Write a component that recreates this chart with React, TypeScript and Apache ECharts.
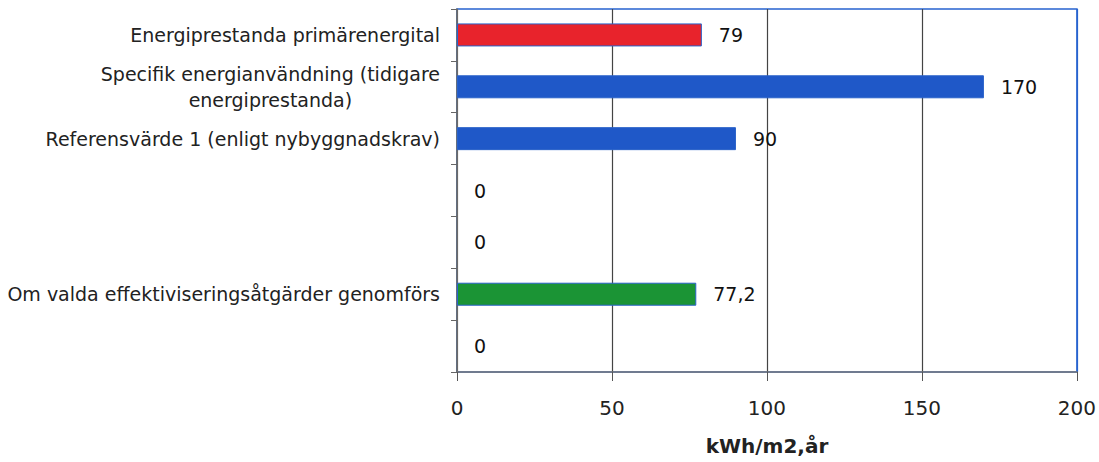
import React, { useEffect, useRef } from "react";
import * as echarts from "echarts";

const categories = [
  "Energiprestanda primärenergital",
  "Specifik energianvändning (tidigare\nenergiprestanda)",
  "Referensvärde 1 (enligt nybyggnadskrav)",
  "",
  "",
  "Om valda effektiviseringsåtgärder genomförs",
  "",
];
const values = [79, 170, 90, 0, 0, 77.2, 0];
const barColors = ["#e8232c", "#1f58c8", "#1f58c8", "#1f58c8", "#1f58c8", "#1b9435", "#1f58c8"];
const xTicks = { min: 0, max: 200, interval: 50 };
const axisName = "kWh/m2,år";

const FONT = "DejaVu Sans";

export default function App() {
  const ref = useRef<HTMLDivElement>(null);
  useEffect(() => {
    const chart = echarts.init(ref.current!, null, { renderer: "svg" });
    chart.setOption({
      animation: false,
      backgroundColor: "#ffffff",
      textStyle: { fontFamily: FONT },
      grid: {
        left: 457,
        right: 21,
        top: 9,
        bottom: 90,
        show: true,
        borderColor: "#2763cf",
        borderWidth: 1.5,
        containLabel: false,
      },
      xAxis: {
        type: "value",
        min: xTicks.min,
        max: xTicks.max,
        interval: xTicks.interval,
        name: axisName,
        nameLocation: "middle",
        nameGap: 64,
        nameTextStyle: { fontFamily: FONT, fontSize: 20, fontWeight: "bold", color: "#222" },
        axisLine: { show: true, lineStyle: { color: "#777", width: 1.5 } },
        axisTick: { show: true, length: 9, lineStyle: { color: "#555" } },
        axisLabel: { fontFamily: FONT, fontSize: 20, color: "#222", margin: 26 },
        splitLine: {
          show: true,
          lineStyle: { color: ["#777", "#444", "#444", "#444", "#2763cf"], width: 1.2 },
        },
      },
      yAxis: {
        type: "category",
        inverse: true,
        data: categories,
        axisLine: { show: true, lineStyle: { color: "#666", width: 1.5 } },
        axisTick: { show: true, length: 6, lineStyle: { color: "#666" } },
        axisLabel: {
          margin: 17,
          fontFamily: FONT,
          fontSize: 19,
          color: "#222",
          lineHeight: 26,
          formatter: (v: string) =>
            v ? v.split("\n").map((l) => `{c|${l}}`).join("\n") : "",
          rich: { c: { align: "center", fontFamily: FONT, fontSize: 19, color: "#222", lineHeight: 26 } },
        },
        splitLine: { show: false },
      },
      series: [
        {
          type: "bar",
          barWidth: 23,
          data: values.map((v, i) => ({
            value: v,
            itemStyle: { color: barColors[i], borderColor: "#2a62c9", borderWidth: v ? 1 : 0 },
          })),
          label: {
            show: true,
            position: "right",
            distance: 17,
            fontFamily: FONT,
            fontSize: 19,
            color: "#111",
            formatter: (p: any) => String(p.value).replace(".", ","),
          },
        },
      ],
    });
    return () => chart.dispose();
  }, []);
  return <div ref={ref} style={{ width: 1099, height: 462, position: "absolute", left: 0, top: 0 }} />;
}
